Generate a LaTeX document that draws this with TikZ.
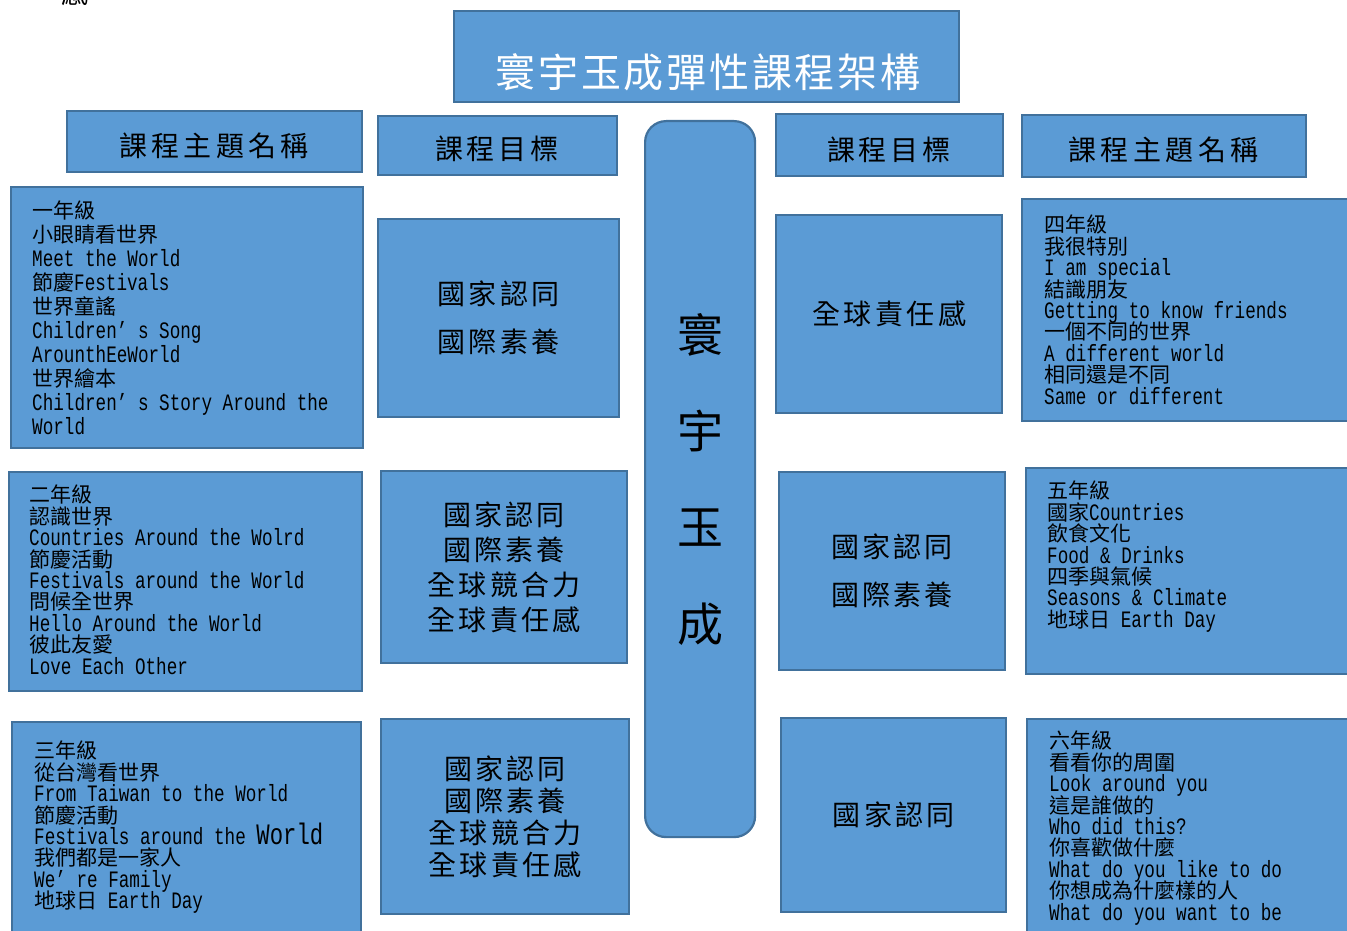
\documentclass[tikz,border=0pt]{standalone}
\usepackage{fontspec}
\setmainfont{Noto Sans CJK TC}
\newfontfamily\lat[Scale=1.12,FakeStretch=0.75]{Liberation Mono}
\definecolor{boxc}{RGB}{91,155,213}
\definecolor{bordc}{RGB}{65,113,156}
\makeatletter
\newcommand\trk[2]{\def\trk@g{\hspace{#1}}\let\trk@s\relax\@tfor\trk@c:=#2\do{\trk@s\trk@c\let\trk@s\trk@g}}
\makeatother
\newcommand\La[1]{{\lat #1}}
\newcommand\nolsk{\lineskiplimit-100pt\relax}
\newcommand\fs[2]{\fontsize{#1}{#2}\selectfont\nolsk}
\begin{document}
\begin{tikzpicture}[x=1pt,y=-1pt,
  box/.style={draw=bordc, fill=boxc, line width=2.2pt, rectangle, inner sep=0pt, anchor=north west},
  hdr/.style={inner sep=0pt, font=\fs{28}{28}},
  gt/.style={inner sep=0pt, align=left, anchor=north west, font=\fs{21}{21.4}},
  lab/.style={align=center}
]
\useasboundingbox (0,0) rectangle (1347,931);
% partial character at top left
\node[inner sep=0pt, font=\fs{27}{27}] (gan) at (75,-7) {感};

% title
\node[box, minimum width=505pt, minimum height=91pt] (title) at (453,10) {};
\node[inner sep=0pt, text=white, font=\fs{40}{40}] (titletxt) at (708,72) {\trk{2.7pt}{寰宇玉成彈性課程架構}};

% headers
\node[box, minimum width=295pt, minimum height=61pt] (hdrL) at (66,110) {};
\node[hdr] (hdrLt) at (214,146) {\trk{4.4pt}{課程主題名稱}};
\node[box, minimum width=239pt, minimum height=59pt] (goalL) at (377,115) {};
\node[hdr] (goalLt) at (497,149) {\trk{4pt}{課程目標}};
\node[box, minimum width=227pt, minimum height=62pt] (goalR) at (775,113) {};
\node[hdr] (goalRt) at (889,149.5) {\trk{4pt}{課程目標}};
\node[box, minimum width=284pt, minimum height=62pt] (hdrR) at (1021,114) {};
\node[hdr] (hdrRt) at (1163.5,150) {\trk{4.4pt}{課程主題名稱}};

% central bar
\node[box, rounded corners=21pt, minimum width=110pt, minimum height=716pt, align=center,
      font=\fs{46}{96.3}] (bar) at (644,120) {寰\\宇\\玉\\成};

% middle left boxes
\node[box, lab, minimum width=241pt, minimum height=198pt, font=\fs{28}{48}] (mL1) at (377,218)
  {\trk{3.2pt}{國家認同}\\\trk{3.2pt}{國際素養}};
\node[box, lab, minimum width=246pt, minimum height=192pt, font=\fs{28}{35}] (mL2) at (380,470)
  {\trk{3.2pt}{國家認同}\\\trk{3.2pt}{國際素養}\\\trk{3.2pt}{全球競合力}\\\trk{3.2pt}{全球責任感}};
\node[box, lab, minimum width=248pt, minimum height=195pt, font=\fs{28}{32}] (mL3) at (380,718)
  {\trk{3.2pt}{國家認同}\\\trk{3.2pt}{國際素養}\\\trk{3.2pt}{全球競合力}\\\trk{3.2pt}{全球責任感}};

% middle right boxes
\node[box, lab, minimum width=226pt, minimum height=198pt, font=\fs{28}{48}] (mR1) at (775,214)
  {\trk{3.5pt}{全球責任感}};
\node[box, lab, minimum width=226pt, minimum height=198pt, font=\fs{28}{48}] (mR2) at (778,471)
  {\trk{3.2pt}{國家認同}\\\trk{3.2pt}{國際素養}};
\node[box, lab, minimum width=225pt, minimum height=194pt, font=\fs{28}{48}] (mR3) at (780,717)
  {\trk{3.2pt}{國家認同}};

% grade boxes left
\node[box, minimum width=352pt, minimum height=261pt] (g1) at (10,186) {};
\node[gt, font=\fs{21}{24}] (g1t) at (32,201) {一年級\\小眼睛看世界\\\La{Meet the World}\\節慶\La{Festivals}\\世界童謠\\\La{Children’ s Song}\\\La{ArounthEeWorld}\\世界繪本\\\La{Children’ s Story Around the}\\\La{World}};

\node[box, minimum width=353pt, minimum height=219pt] (g2) at (8,471) {};
\node[gt] (g2t) at (29,485) {二年級\\認識世界\\\La{Countries Around the Wolrd}\\節慶活動\\\La{Festivals around the World}\\問候全世界\\\La{Hello Around the World}\\彼此友愛\\\La{Love Each Other}};

\node[box, minimum width=349pt, minimum height=230pt] (g3) at (11,721) {};
\node[gt] (g3t) at (34,741) {三年級\\從台灣看世界\\\La{From Taiwan to the World}\\節慶活動\\\La{Festivals around the {\fontsize{26.5}{21.4}\selectfont World}}\\我們都是一家人\\\La{We’ re Family}\\地球日\La{ Earth Day}};

% grade boxes right
\node[box, minimum width=340pt, minimum height=222pt] (g4) at (1021,198) {};
\node[gt] (g4t) at (1044,215) {四年級\\我很特別\\\La{I am special}\\結識朋友\\\La{Getting to know friends}\\一個不同的世界\\\La{A different world}\\相同還是不同\\\La{Same or different}};

\node[box, minimum width=336pt, minimum height=206pt] (g5) at (1025,467) {};
\node[gt] (g5t) at (1047,481) {五年級\\國家\La{Countries}\\飲食文化\\\La{Food \& Drinks}\\四季與氣候\\\La{Seasons \& Climate}\\地球日\La{ Earth Day}};

\node[box, minimum width=335pt, minimum height=230pt] (g6) at (1026,718) {};
\node[gt] (g6t) at (1049,731) {六年級\\看看你的周圍\\\La{Look around you}\\這是誰做的\\\La{Who did this?}\\你喜歡做什麼\\\La{What do you like to do}\\你想成為什麼樣的人\\\La{What do you want to be}};
\end{tikzpicture}
\end{document}
